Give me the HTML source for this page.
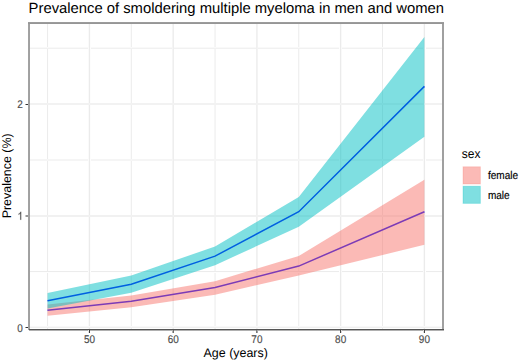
<!DOCTYPE html>
<html><head><meta charset="utf-8"><style>
html,body{margin:0;padding:0;background:#fff;}
svg{display:block;}
text{font-family:"Liberation Sans",sans-serif;text-rendering:geometricPrecision;}
.ax{stroke:#4D4D4D;stroke-width:0.15px;}
.lg{stroke:#000;stroke-width:0.15px;}
.mn{stroke:#EBEBEB;stroke-width:1.0;}
.mj{stroke:#EBEBEB;stroke-width:1.35;}
.tk{stroke:#333333;stroke-width:1;}
</style></head><body>
<svg width="520" height="362" viewBox="0 0 520 362">
<rect x="0" y="0" width="520" height="362" fill="#fff"/>
<g shape-rendering="crispEdges"><rect x="47" y="23.50" width="1" height="305.70" fill="#ececec"/><rect x="48" y="23.50" width="1" height="305.70" fill="#fefefe"/>
<rect x="130" y="23.50" width="1" height="305.70" fill="#fbfbfb"/><rect x="131" y="23.50" width="1" height="305.70" fill="#efefef"/>
<rect x="214" y="23.50" width="1" height="305.70" fill="#f6f6f6"/><rect x="215" y="23.50" width="1" height="305.70" fill="#f4f4f4"/>
<rect x="298" y="23.50" width="1" height="305.70" fill="#f0f0f0"/><rect x="299" y="23.50" width="1" height="305.70" fill="#fafafa"/>
<rect x="382" y="23.50" width="1" height="305.70" fill="#ebebeb"/><rect x="383" y="23.50" width="1" height="305.70" fill="#ffffff"/>
<rect x="29.50" y="47" width="413.00" height="1" fill="#f9f9f9"/><rect x="29.50" y="48" width="413.00" height="1" fill="#f1f1f1"/>
<rect x="29.50" y="159" width="413.00" height="1" fill="#f5f5f5"/><rect x="29.50" y="160" width="413.00" height="1" fill="#f5f5f5"/>
<rect x="29.50" y="271" width="413.00" height="1" fill="#ececec"/><rect x="29.50" y="272" width="413.00" height="1" fill="#fefefe"/>
<rect x="88" y="23.50" width="1" height="305.70" fill="#fafafa"/><rect x="89" y="23.50" width="1" height="305.70" fill="#ebebeb"/><rect x="90" y="23.50" width="1" height="305.70" fill="#fdfdfd"/>
<rect x="172" y="23.50" width="1" height="305.70" fill="#f5f5f5"/><rect x="173" y="23.50" width="1" height="305.70" fill="#eeeeee"/>
<rect x="256" y="23.50" width="1" height="305.70" fill="#f0f0f0"/><rect x="257" y="23.50" width="1" height="305.70" fill="#f3f3f3"/>
<rect x="339" y="23.50" width="1" height="305.70" fill="#fefefe"/><rect x="340" y="23.50" width="1" height="305.70" fill="#ebebeb"/><rect x="341" y="23.50" width="1" height="305.70" fill="#f9f9f9"/>
<rect x="423" y="23.50" width="1" height="305.70" fill="#f9f9f9"/><rect x="424" y="23.50" width="1" height="305.70" fill="#ebebeb"/><rect x="425" y="23.50" width="1" height="305.70" fill="#fefefe"/>
<rect x="29.50" y="215" width="413.00" height="1" fill="#f1f1f1"/><rect x="29.50" y="216" width="413.00" height="1" fill="#f1f1f1"/>
<rect x="29.50" y="103" width="413.00" height="1" fill="#f2f2f2"/><rect x="29.50" y="104" width="413.00" height="1" fill="#f2f2f2"/>
<rect x="29.50" y="326" width="413.00" height="1" fill="#f9f9f9"/><rect x="29.50" y="327" width="413.00" height="1" fill="#efefef"/></g>
<polyline points="47.55,310.20 131.29,301.20 215.03,287.50 298.77,266.10 424.38,211.70" fill="none" stroke="#0000FF" stroke-width="1.5"/>
<polyline points="47.55,300.80 131.29,284.30 215.03,256.10 298.77,211.70 424.38,86.40" fill="none" stroke="#0000FF" stroke-width="1.5"/>
<polygon points="47.55,304.50 131.29,295.50 215.03,281.30 298.77,255.90 424.38,179.70 424.38,244.80 298.77,275.50 215.03,294.80 131.29,307.30 47.55,315.80" fill="#F8766D" fill-opacity="0.5"/>
<polygon points="47.55,293.10 131.29,275.50 215.03,246.50 298.77,197.00 424.38,37.10 424.38,136.70 298.77,226.80 215.03,265.20 131.29,292.70 47.55,308.60" fill="#00BFC4" fill-opacity="0.5"/>
<g shape-rendering="crispEdges">
<rect x="28" y="22" width="1" height="308" fill="#a2a2a2"/>
<rect x="29" y="22" width="1" height="308" fill="#a0a0a0"/>
<rect x="442" y="22" width="1" height="309" fill="#a0a0a0"/>
<rect x="443" y="22" width="1" height="309" fill="#a0a0a0"/>
<rect x="28" y="22" width="416" height="1" fill="#9c9c9c"/>
<rect x="28" y="23" width="416" height="1" fill="#969696"/>
<rect x="29" y="329" width="415" height="1" fill="#555555"/>
<rect x="29" y="330" width="415" height="1" fill="#b0b0b0"/>
</g>
<g shape-rendering="crispEdges"><rect x="88" y="330.00" width="1" height="2.90" fill="#e4e4e4"/><rect x="89" y="330.00" width="1" height="2.90" fill="#393939"/>
<rect x="172" y="330.00" width="1" height="2.90" fill="#afafaf"/><rect x="173" y="330.00" width="1" height="2.90" fill="#6e6e6e"/>
<rect x="256" y="330.00" width="1" height="2.90" fill="#7a7a7a"/><rect x="257" y="330.00" width="1" height="2.90" fill="#a3a3a3"/>
<rect x="340" y="330.00" width="1" height="2.90" fill="#454545"/><rect x="341" y="330.00" width="1" height="2.90" fill="#d8d8d8"/>
<rect x="423" y="330.00" width="1" height="2.90" fill="#dcdcdc"/><rect x="424" y="330.00" width="1" height="2.90" fill="#414141"/>
<rect x="26.00" y="327" width="2.00" height="1" fill="#333333"/><rect x="25.00" y="327" width="1.00" height="1" fill="#999999"/>
<rect x="26.00" y="215" width="2.00" height="1" fill="#999999"/><rect x="26.00" y="216" width="2.00" height="1" fill="#999999"/><rect x="25.00" y="215" width="1.00" height="1" fill="#cccccc"/><rect x="25.00" y="216" width="1.00" height="1" fill="#cccccc"/>
<rect x="26.00" y="104" width="2.00" height="1" fill="#333333"/><rect x="25.00" y="104" width="1.00" height="1" fill="#999999"/></g>
<text transform="translate(89.42,343.00) scale(1,1.12)" font-size="9.95px" fill="#4D4D4D" text-anchor="middle" class="ax">50</text>
<text transform="translate(173.16,343.00) scale(1,1.12)" font-size="9.95px" fill="#4D4D4D" text-anchor="middle" class="ax">60</text>
<text transform="translate(256.90,343.00) scale(1,1.12)" font-size="9.95px" fill="#4D4D4D" text-anchor="middle" class="ax">70</text>
<text transform="translate(340.64,343.00) scale(1,1.12)" font-size="9.95px" fill="#4D4D4D" text-anchor="middle" class="ax">80</text>
<text transform="translate(424.38,343.00) scale(1,1.12)" font-size="9.95px" fill="#4D4D4D" text-anchor="middle" class="ax">90</text>
<text transform="translate(22.80,331.60) scale(1,1.12)" font-size="9.95px" fill="#4D4D4D" text-anchor="end" class="ax">0</text>
<path transform="translate(17.466,219.800) scale(0.004858,-0.005441)" d="M583 0L763 0L763 1466L646 1466Q599 1371 486 1270Q373 1169 223 1099L223 925Q307 956 412 1018Q517 1080 583 1142Z" fill="#4D4D4D" stroke="#4D4D4D" stroke-width="30"/>
<text transform="translate(22.80,108.00) scale(1,1.12)" font-size="9.95px" fill="#4D4D4D" text-anchor="end" class="ax">2</text>
<text transform="translate(28.60,12.90) scale(1,1.0)" font-size="14.8px" fill="#000">Prevalence of smoldering multiple myeloma in men and women</text>
<text transform="translate(235.70,357.20) scale(1,1.0)" font-size="12.45px" fill="#000" text-anchor="middle">Age (years)</text>
<text transform="translate(11.2,175.8) rotate(-90)" font-size="12.45px" fill="#000" text-anchor="middle">Prevalence (%)</text>
<text transform="translate(461.80,157.90) scale(1,1.06)" font-size="12.0px" fill="#000">sex</text>
<rect x="463.0" y="166.8" width="17.4" height="17.2" fill="#F8766D" fill-opacity="0.5" stroke="#F8766D" stroke-opacity="0.25" stroke-width="1"/>
<rect x="463.0" y="186.2" width="17.4" height="17.2" fill="#00BFC4" fill-opacity="0.5" stroke="#00BFC4" stroke-opacity="0.25" stroke-width="1"/>
<text transform="translate(487.90,179.30) scale(1,1.12)" font-size="10.05px" fill="#000" class="lg">female</text>
<text transform="translate(487.90,199.15) scale(1,1.12)" font-size="10.05px" fill="#000" class="lg">male</text>
</svg>
</body></html>
